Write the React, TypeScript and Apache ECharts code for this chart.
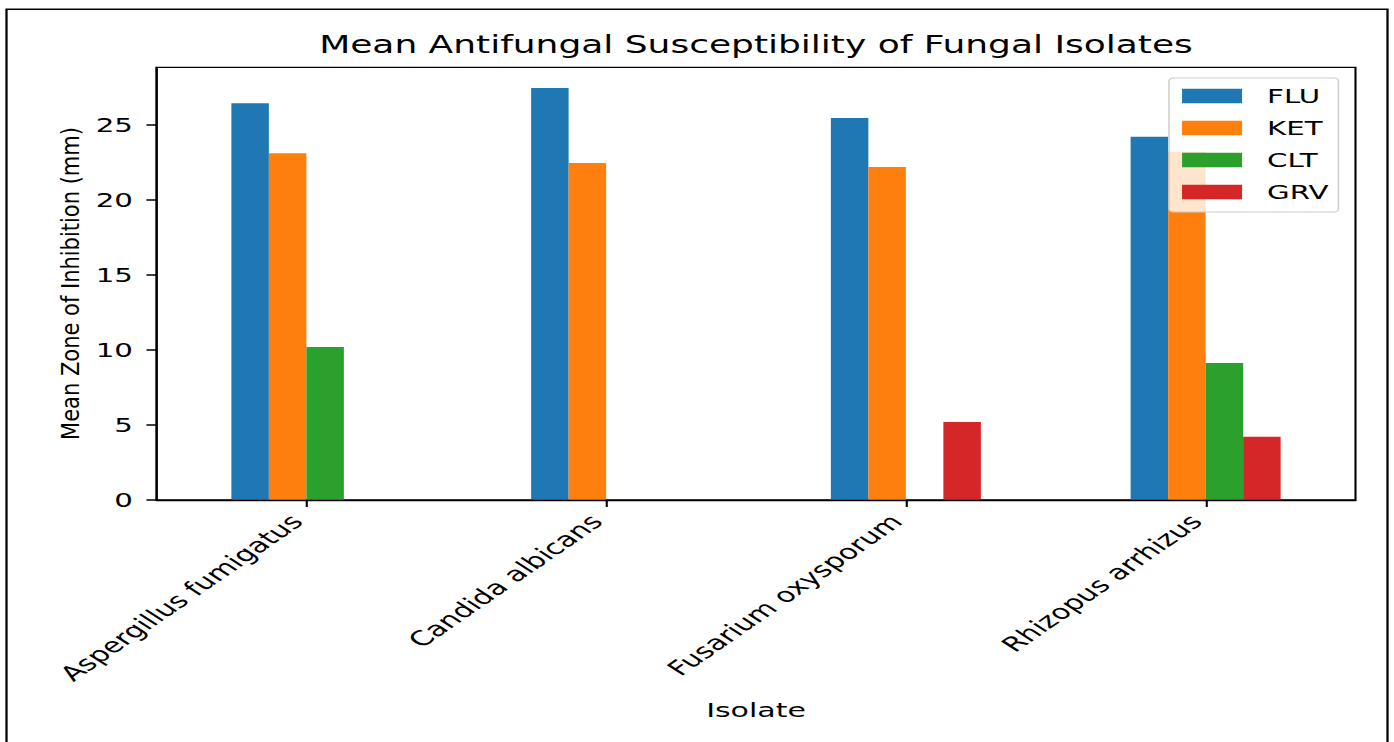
import React, { useEffect, useRef } from "react";
import * as echarts from "echarts";

const categories = ["Aspergillus fumigatus", "Candida albicans", "Fusarium oxysporum", "Rhizopus arrhizus"];
const seriesNames = ["FLU", "KET", "CLT", "GRV"];
const fluValues = [26.45, 27.47, 25.47, 24.22];
const ketValues = [23.11, 22.47, 22.2, 23.22];
const cltValues = [10.2, 0, 0, 9.13];
const grvValues = [0, 0, 5.2, 4.22];
const yTicks = [0, 5, 10, 15, 20, 25];
const colors = ["#1f77b4", "#ff7f0e", "#2ca02c", "#d62728"];

const SX = 1.5;
const W = 1394;
const H = 742;
const IW = W / SX;
const FONT = "DejaVu Sans";

export default function App() {
  const ref = useRef<HTMLDivElement>(null);
  useEffect(() => {
    if (!ref.current) return;
    const chart = echarts.init(ref.current, null, { renderer: "svg" });
    const values = [fluValues, ketValues, cltValues, grvValues];
    const gridLeft = 156.5 / SX;
    const gridWidth = 1199 / SX;
    chart.setOption({
      animation: false,
      title: {
        text: "Mean Antifungal Susceptibility of Fungal Isolates",
        left: gridLeft + gridWidth / 2,
        top: 33,
        padding: 0,
        textAlign: "center",
        textStyle: { fontFamily: FONT, fontSize: 24, fontWeight: "normal", color: "#000" },
      },
      legend: {
        data: seriesNames,
        orient: "vertical",
        left: 1169 / SX,
        top: 78,
        itemWidth: 40,
        itemHeight: 14.5,
        itemGap: 12,
        icon: "rect",
        selectedMode: false,
        backgroundColor: "rgba(255,255,255,0.8)",
        borderColor: "#cccccc",
        borderWidth: 1,
        borderRadius: 3,
        padding: [8, 6.6, 10, 8.7],
        textStyle: { fontFamily: FONT, fontSize: 19.5, lineHeight: 20, color: "#000", padding: [0, 0, 0, 11.7] },
      },
      grid: {
        left: gridLeft,
        top: 67.4,
        width: gridWidth,
        height: 432.6,
        show: true,
        borderColor: "#000",
        borderWidth: 1.4,
        backgroundColor: "transparent",
      },
      xAxis: {
        type: "category",
        data: categories,
        z: 3,
        axisLine: { show: true, lineStyle: { color: "#000", width: 1.4 } },
        axisTick: { show: true, alignWithLabel: true, length: 7, lineStyle: { color: "#000", width: 1.4 } },
        axisLabel: {
          interval: 0,
          rotate: 46,
          margin: 11.5,
          padding: [0, 9, 0, 0],
          fontFamily: FONT,
          fontSize: 20.5,
          color: "#000",
        },
        splitLine: { show: false },
        name: "Isolate",
        nameLocation: "middle",
        nameGap: 200,
        nameTextStyle: { fontFamily: FONT, fontSize: 20, color: "#000" },
      },
      yAxis: {
        type: "value",
        min: 0,
        max: 28.84,
        interval: 5,
        z: 3,
        axisLine: { show: true, lineStyle: { color: "#000", width: 1.4 } },
        axisTick: { show: true, length: 6.7, lineStyle: { color: "#000", width: 1.5 }, customValues: yTicks },
        axisLabel: {
          customValues: yTicks,
          margin: 15.7,
          fontFamily: FONT,
          fontSize: 19.5,
          color: "#000",
        },
        splitLine: { show: false },
      },
      graphic: [
        {
          type: "rect",
          silent: true,
          shape: { x: 6.5 / SX, y: 9.3, width: (1387.5 - 6.5) / SX, height: 800 },
          style: { fill: "none", stroke: "#000", lineWidth: 1.5 },
          z: 10,
        },
        {
          type: "text",
          silent: true,
          x: 69.5 / SX,
          y: 283.5,
          rotation: Math.PI / 2,
          scaleX: 1,
          scaleY: 0.8,
          style: {
            text: "Mean Zone of Inhibition (mm)",
            fontFamily: FONT,
            fontSize: 21,
            fill: "#000",
            align: "center",
            verticalAlign: "middle",
          },
        },
      ],
      series: seriesNames.map((name, i) => ({
        name,
        type: "bar",
        data: values[i],
        barWidth: 37.5 / SX,
        barGap: "0%",
        itemStyle: { color: colors[i] },
      })),
    });
    return () => chart.dispose();
  }, []);
  return (
    <div style={{ position: "fixed", left: 0, top: 0, width: W, height: H, overflow: "hidden", background: "#fff" }}>
      <div
        ref={ref}
        style={{
          position: "absolute",
          left: 0,
          top: 0,
          width: IW,
          height: H,
          transform: `scaleX(${SX})`,
          transformOrigin: "0 0",
        }}
      />
    </div>
  );
}
